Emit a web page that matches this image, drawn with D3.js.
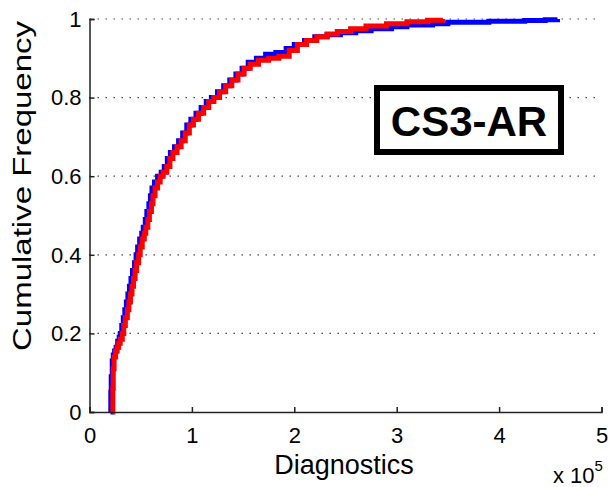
<!DOCTYPE html>
<html><head><meta charset="utf-8">
<script src="https://cdn.jsdelivr.net/npm/d3@7"></script>
<style>body{margin:0;background:#fff}svg{display:block}text{font-family:"Liberation Sans",Arial,sans-serif}</style>
</head><body><div id="chart"></div>
<script>
// x values in units of 1e5
const blueX = [0.205,0.208,0.212,0.222,0.232,0.245,0.26,0.275,0.29,0.30,0.315,0.33,0.345,0.36,0.375,0.39,0.405,0.42,0.44,0.455,0.47,0.49,0.51,0.525,0.545,0.56,0.58,0.595,0.61,0.635,0.665,0.70,0.73,0.76,0.79,0.83,0.87,0.91,0.95,0.99,1.04,1.09,1.14,1.19,1.25,1.31,1.37,1.43,1.49,1.55,1.63,1.72,1.82,1.92,2.00,2.10,2.20,2.32,2.45,2.60,2.75,2.95,3.10,3.35,3.50,3.90,4.25,4.45,4.57];
const blueY = [0,0.05,0.09,0.13,0.145,0.155,0.165,0.18,0.19,0.20,0.22,0.24,0.26,0.28,0.30,0.32,0.34,0.36,0.38,0.40,0.42,0.44,0.455,0.47,0.49,0.51,0.53,0.55,0.57,0.585,0.60,0.61,0.625,0.645,0.66,0.675,0.69,0.71,0.73,0.745,0.76,0.775,0.79,0.80,0.815,0.83,0.845,0.86,0.875,0.89,0.90,0.91,0.915,0.925,0.935,0.945,0.955,0.96,0.965,0.97,0.975,0.98,0.985,0.988,0.992,0.994,0.996,0.998,1.0];
const redX = [0.225,0.228,0.232,0.24,0.255,0.27,0.285,0.30,0.32,0.335,0.35,0.37,0.385,0.40,0.415,0.43,0.445,0.46,0.48,0.495,0.515,0.535,0.55,0.57,0.585,0.605,0.62,0.64,0.665,0.69,0.72,0.755,0.785,0.815,0.855,0.895,0.935,0.975,1.015,1.065,1.115,1.165,1.215,1.27,1.33,1.39,1.45,1.51,1.57,1.65,1.75,1.85,1.95,2.03,2.12,2.22,2.32,2.42,2.55,2.70,2.90,3.10,3.30,3.45];
const redY = [0,0.06,0.11,0.14,0.155,0.165,0.175,0.185,0.20,0.22,0.24,0.26,0.28,0.30,0.32,0.34,0.36,0.38,0.40,0.42,0.44,0.455,0.47,0.49,0.51,0.53,0.55,0.57,0.585,0.60,0.61,0.625,0.645,0.66,0.675,0.69,0.71,0.73,0.745,0.76,0.775,0.79,0.80,0.815,0.83,0.845,0.86,0.875,0.885,0.895,0.90,0.905,0.92,0.935,0.945,0.955,0.962,0.968,0.975,0.982,0.988,0.993,0.997,1.0];
const xTicks = [0,1,2,3,4,5];
const yTicks = [0,0.2,0.4,0.6,0.8,1];
const yTickLabels = ["0","0.2","0.4","0.6","0.8","1"];
const series = [
  {name:"blue", xs:blueX, ys:blueY, color:"#0000ff"},
  {name:"red", xs:redX, ys:redY, color:"#ff0000"}
];

const W=609,H=487;
const svg=d3.select("#chart").append("svg").attr("width",W).attr("height",H);
const x=d3.scaleLinear().domain([0,5]).range([89.5,601.5]);
const y=d3.scaleLinear().domain([0,1]).range([412,19]);

// grid
svg.append("g").selectAll("line").data(yTicks.filter(d=>d>0)).join("line")
  .attr("x1",x(0)).attr("x2",x(5)).attr("y1",d=>y(d)).attr("y2",d=>y(d))
  .attr("stroke","#444").attr("stroke-width",1.2).attr("stroke-dasharray","1.5,6.5");

// curves
const line=d3.line().x(d=>x(d[0])).y(d=>y(d[1])).curve(d3.curveStepAfter);
series.forEach(s=>{
  const pts=s.xs.map((v,i)=>[v,s.ys[i]]);
  svg.append("path").datum(pts).attr("d",line).attr("fill","none")
    .attr("stroke",s.color).attr("stroke-width",5).attr("stroke-linejoin","miter");
});

// axes
const xa=d3.axisBottom(x).tickValues(xTicks).tickSize(-5).tickPadding(15).tickFormat(d3.format("d"));
const gx=svg.append("g").attr("transform",`translate(0,${y(0)})`).call(xa);
const ya=d3.axisLeft(y).tickValues(yTicks).tickSize(-5).tickPadding(8).tickFormat((d,i)=>yTickLabels[i]);
const gy=svg.append("g").attr("transform",`translate(${x(0)},0)`).call(ya);
[gx,gy].forEach(g=>{
  g.select(".domain").attr("stroke","#222").attr("stroke-width",1.5);
  g.selectAll(".tick line").attr("stroke","#222").attr("stroke-width",1.5);
  g.selectAll("text").attr("font-size",22).attr("fill","#000").style("font-family","Liberation Sans, Arial, sans-serif");
});
gy.selectAll("text").attr("dy","0.33em");

// labels
svg.append("text").attr("x",344).attr("y",474).attr("text-anchor","middle").attr("font-size",27).text("Diagnostics");
svg.append("text").attr("transform","translate(31,186) rotate(-90)").attr("text-anchor","middle")
  .attr("font-size",26).attr("textLength",330).attr("lengthAdjust","spacingAndGlyphs").text("Cumulative Frequency");
const sx=svg.append("text").attr("x",553).attr("y",483).attr("font-size",22);
sx.append("tspan").text("x 10");
sx.append("tspan").attr("dy",-12).attr("font-size",15).text("5");

// annotation box
svg.append("rect").attr("x",377).attr("y",88).attr("width",184).attr("height",64)
  .attr("fill","#fff").attr("stroke","#000").attr("stroke-width",6);
svg.append("text").attr("x",469).attr("y",136).attr("text-anchor","middle")
  .attr("font-size",42).attr("font-weight","bold").text("CS3-AR");
</script></body></html>
